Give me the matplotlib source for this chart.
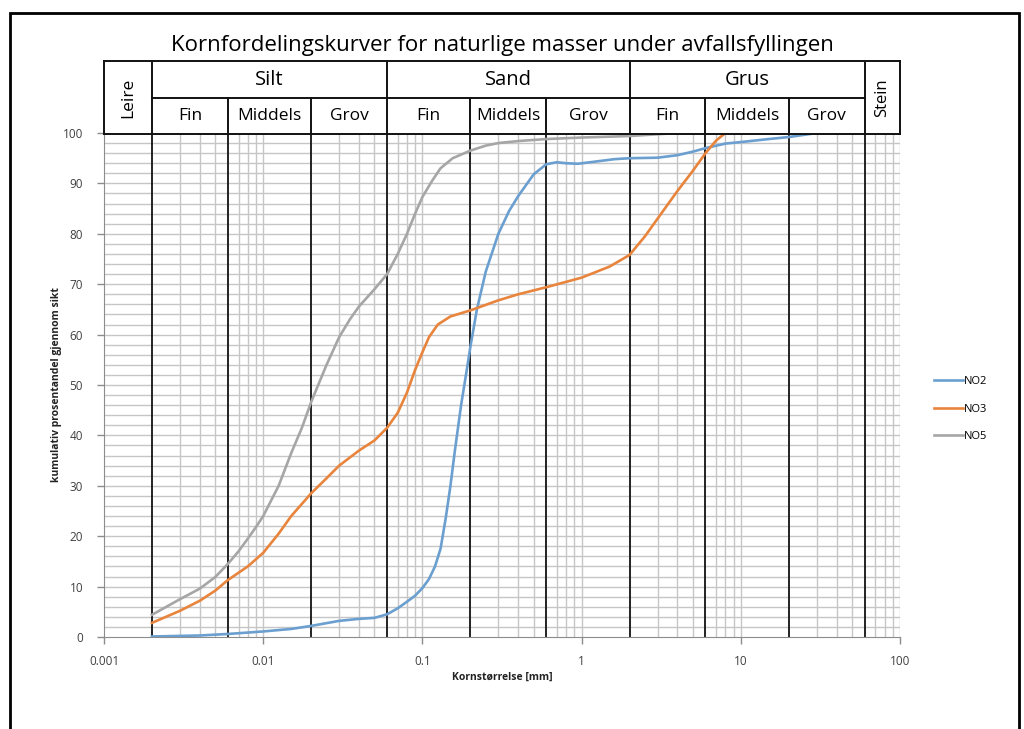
import numpy as np
import matplotlib
matplotlib.use('Agg')
import matplotlib.pyplot as plt
from matplotlib.patches import Rectangle

plt.rcParams['font.family'] = ['Open Sans', 'DejaVu Sans']

# sieve curves: grain size [mm] and cumulative percent passing
no2_d = [0.002, 0.004, 0.006, 0.01, 0.015, 0.02, 0.03, 0.04, 0.05, 0.06, 0.07, 0.08,
         0.09, 0.1, 0.11, 0.12, 0.13, 0.14, 0.15, 0.16, 0.175, 0.19, 0.2, 0.22, 0.25,
         0.3, 0.35, 0.4, 0.5, 0.6, 0.7, 0.8, 0.95, 1.2, 1.6, 2, 3, 4, 5, 6, 8, 10,
         15, 20, 30]
no2_p = [0.1, 0.3, 0.6, 1.1, 1.6, 2.2, 3.2, 3.6, 3.8, 4.5, 5.7, 7.0,
         8.2, 9.7, 11.5, 14.0, 17.5, 23.5, 30, 37, 46, 53, 57.5, 65, 72.5,
         80, 84.5, 87.5, 91.8, 93.8, 94.2, 94.0, 93.9, 94.3, 94.8, 95, 95.1, 95.6, 96.3,
         97, 97.9, 98.2, 98.8, 99.2, 100]

no3_d = [0.002, 0.003, 0.004, 0.005, 0.006, 0.008, 0.01, 0.0125, 0.015, 0.02, 0.025,
         0.03, 0.04, 0.05, 0.06, 0.07, 0.08, 0.09, 0.1, 0.11, 0.125, 0.15, 0.2, 0.3,
         0.4, 0.6, 1, 1.5, 2, 2.5, 3, 4, 5, 6, 7, 8]
no3_p = [2.8, 5.2, 7.2, 9.2, 11.3, 14.0, 16.7, 20.5, 24, 28.5, 31.5,
         34, 37, 39, 41.5, 44.5, 48.5, 53, 56.5, 59.5, 62, 63.6, 64.8, 66.8,
         68, 69.4, 71.3, 73.5, 75.8, 79.5, 83, 88.5, 92.5, 96, 98.5, 100]

no5_d = [0.002, 0.003, 0.004, 0.005, 0.006, 0.007, 0.008, 0.009, 0.01, 0.0125, 0.015,
         0.0175, 0.02, 0.025, 0.03, 0.035, 0.04, 0.05, 0.06, 0.07, 0.08, 0.09, 0.1,
         0.115, 0.13, 0.155, 0.2, 0.25, 0.3, 0.4, 0.6, 1, 2, 4]
no5_p = [4.4, 7.5, 9.6, 11.9, 14.5, 17.0, 19.5, 21.8, 24, 30, 36.5,
         41.5, 46.6, 54.0, 59.5, 63.0, 65.6, 69, 72, 76, 80, 84, 87.3,
         90.5, 93, 95, 96.5, 97.5, 98, 98.4, 98.8, 99.1, 99.4, 100]

series = [('NO2', no2_d, no2_p, '#6b9fd0'),
          ('NO3', no3_d, no3_p, '#e8843c'),
          ('NO5', no5_d, no5_p, '#a6a6a6')]

# grain classes for the header
main_bounds = [0.002, 0.06, 2, 60]
sub_bounds = [0.006, 0.02, 0.2, 0.6, 6, 20]
main_classes = [('Silt', 0.002, 0.06), ('Sand', 0.06, 2), ('Grus', 2, 60)]
sub_names = ['Fin', 'Middels', 'Grov']
sub_edges = [[0.002, 0.006, 0.02, 0.06], [0.06, 0.2, 0.6, 2], [2, 6, 20, 60]]

xticks = [0.001, 0.01, 0.1, 1, 10, 100]
xtick_labels = ['0.001', '0.01', '0.1', '1', '10', '100']
yticks = list(range(0, 101, 10))

W, H = 1024, 729
fig = plt.figure(figsize=(W / 100, H / 100), dpi=100)

def fx(px):
    return px / W

def fy(py):
    return 1 - py / H

grid_c = '#c6c6c6'
ax = fig.add_axes([fx(104), fy(637), fx(900) - fx(104), fy(133) - fy(637)])
ax.set_xscale('log')
ax.set_xlim(0.001, 100)
ax.set_ylim(0, 100)

# light grid: every 2 % and log minors
for yv in np.arange(2, 101, 2):
    ax.axhline(yv, color=grid_c, lw=1.0, zorder=1)
for dec in [0.001, 0.01, 0.1, 1, 10]:
    for m in range(2, 11):
        xv = dec * m
        if any(np.isclose(xv, b) for b in main_bounds + sub_bounds):
            continue
        ax.axvline(xv, color=grid_c, lw=1.0, zorder=1)

for b in main_bounds + sub_bounds:
    ax.axvline(b, color='#222222', lw=1.4, zorder=2)

for name, d, p, c in series:
    ax.plot(d, p, color=c, lw=1.9, label=name, zorder=3, solid_joinstyle='round')

for s in ['top', 'right']:
    ax.spines[s].set_visible(False)
for s in ['left', 'bottom']:
    ax.spines[s].set_color('#8c8c8c')
ax.set_xticks(xticks)
ax.set_xticklabels(xtick_labels)
ax.xaxis.set_minor_locator(matplotlib.ticker.NullLocator())
ax.set_yticks(yticks)
ax.tick_params(axis='both', colors='#8c8c8c', labelcolor='#404040', labelsize=8.5,
               length=5, width=1)
ax.tick_params(axis='x', pad=8)
ax.tick_params(axis='y', pad=10)

fig.text(fx(502), fy(677), 'Kornstørrelse [mm]', ha='center', va='center',
         fontsize=7.5, fontweight='bold', color='#222222')
fig.text(fx(57), fy(385), 'kumulativ prosentandel gjennom sikt', ha='center',
         va='center', rotation=90, fontsize=7.5, fontweight='bold', color='#222222')

ax.legend(loc='center left', bbox_to_anchor=(1.03, 0.452), frameon=False,
          fontsize=8, handlelength=2.6, labelspacing=1.5, handletextpad=0.1)

# header table with grain classes
hx = fig.add_axes([fx(104), fy(134), fx(900) - fx(104), fy(61) - fy(134)])
hx.set_xscale('log')
hx.set_xlim(0.001, 100)
hx.set_ylim(0, 1)
hx.set_xticks([])
hx.set_yticks([])
hx.xaxis.set_minor_locator(matplotlib.ticker.NullLocator())
for s in hx.spines.values():
    s.set_color('#111111')
    s.set_linewidth(1.4)
split = 0.487
for b in main_bounds:
    hx.axvline(b, color='#111111', lw=1.4)
for b in sub_bounds:
    hx.plot([b, b], [0, split], color='#111111', lw=1.4)
hx.plot([0.002, 60], [split, split], color='#111111', lw=1.4)

for name, a, b in main_classes:
    hx.text(np.sqrt(a * b), (1 + split) / 2, name, ha='center', va='center', fontsize=14.5)
for edges in sub_edges:
    for i, nm in enumerate(sub_names):
        hx.text(np.sqrt(edges[i] * edges[i + 1]), split / 2, nm, ha='center',
                va='center', fontsize=12.5)
hx.text(np.sqrt(0.001 * 0.002), 0.5, 'Leire', rotation=90, ha='center', va='center',
        fontsize=12.5)
hx.text(np.sqrt(60 * 100), 0.5, 'Stein', rotation=90, ha='center', va='center',
        fontsize=12)

fig.text(fx(502), fy(45), 'Kornfordelingskurver for naturlige masser under avfallsfyllingen',
         ha='center', va='center', fontsize=16)

fig.add_artist(Rectangle((fx(10), -0.05), fx(1019) - fx(10), fy(13) + 0.05,
                         transform=fig.transFigure, fill=False, ec='black', lw=2))

fig.savefig('out.png', dpi=100)
